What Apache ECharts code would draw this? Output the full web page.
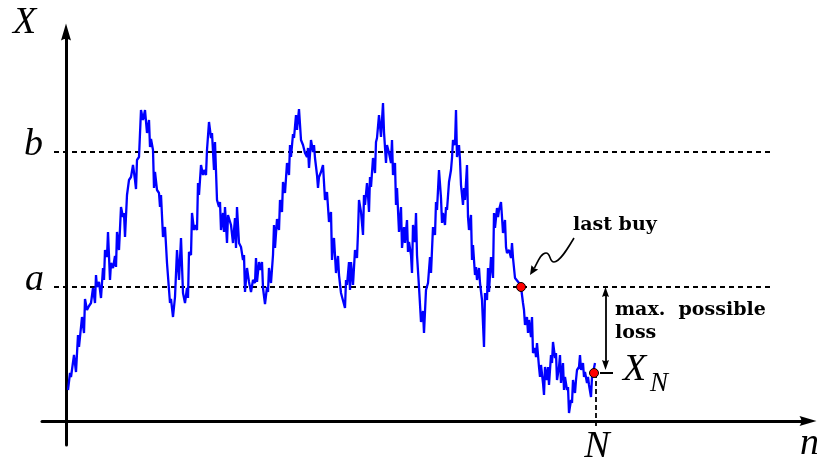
<!DOCTYPE html>
<html><head><meta charset="utf-8">
<script src="https://cdn.jsdelivr.net/npm/echarts@6/dist/echarts.min.js"></script>
<style>html,body{margin:0;padding:0;background:#fff}#c{width:817px;height:463px}</style>
</head><body><div id="c"></div>
<script>
// random walk X_n: [n, X]
const walk = [[2,31],[4,48],[5,44],[8,66],[10,49],[12,86],[13,74],[16,104],[18,88],[19,122],[21,111],[23,115],[25,118],[27,133],[29,118],[30,146],[31,134],[33,139],[35,123],[37,153],[38,141],[39,171],[41,164],[42,189],[44,141],[45,158],[47,153],[49,165],[50,154],[51,189],[53,171],[55,214],[57,204],[58,208],[59,184],[61,226],[63,241],[65,244],[67,256],[69,241],[70,232],[71,261],[73,264],[75,311],[77,301],[79,311],[81,288],[83,301],[84,274],[85,282],[87,271],[88,233],[89,249],[90,250],[91,231],[93,228],[94,214],[95,226],[97,184],[99,194],[101,158],[103,159],[104,118],[105,122],[107,104],[109,124],[111,171],[113,141],[115,183],[117,128],[119,118],[121,133],[122,123],[123,169],[125,166],[126,208],[128,191],[129,196],[131,191],[132,238],[133,226],[135,256],[137,246],[138,251],[140,246],[141,271],[143,299],[145,283],[146,288],[148,251],[149,279],[151,221],[153,214],[154,219],[155,191],[157,208],[158,189],[159,214],[161,178],[162,206],[163,208],[165,196],[166,194],[167,178],[169,203],[170,173],[171,214],[173,178],[175,174],[177,161],[178,166],[179,129],[181,153],[183,139],[185,129],[187,141],[189,138],[190,163],[191,139],[193,159],[194,151],[196,159],[197,133],[199,117],[201,134],[202,129],[203,153],[205,138],[207,166],[208,196],[209,173],[211,202],[213,191],[214,221],[216,209],[217,239],[219,228],[221,258],[223,246],[224,276],[225,264],[227,287],[228,283],[230,306],[231,291],[233,312],[235,281],[237,276],[239,268],[241,264],[242,273],[243,253],[245,281],[247,269],[248,276],[249,263],[251,246],[252,233],[253,244],[255,249],[257,256],[259,221],[261,229],[263,199],[265,209],[266,161],[267,176],[268,183],[270,148],[272,165],[273,146],[275,128],[277,129],[279,113],[280,141],[281,136],[283,159],[284,131],[285,159],[287,136],[289,171],[291,163],[292,189],[293,221],[295,209],[297,186],[298,226],[299,216],[301,238],[302,226],[303,209],[304,244],[305,234],[307,263],[309,248],[310,279],[311,283],[313,306],[315,284],[317,318],[318,289],[320,258],[321,276],[323,268],[325,258],[326,281],[327,246],[329,258],[330,216],[331,233],[333,189],[335,214],[336,173],[338,194],[339,178],[341,201],[342,169],[343,179],[345,166],[346,148],[347,196],[349,179],[350,208],[351,166],[353,134],[355,99],[357,110],[358,88],[360,131],[362,138],[364,164],[365,148],[367,194],[369,186],[370,219],[371,211],[373,251],[375,223],[376,198],[377,208],[379,196],[380,214],[381,211],[383,239],[385,251],[386,263],[387,281],[389,276],[390,311],[391,264],[393,276],[394,261],[395,236],[397,216],[398,233],[399,221],[401,256],[402,204],[403,191],[405,206],[406,161],[407,176],[409,146],[410,154],[411,141],[413,153],[414,138],[416,121],[418,74],[419,128],[421,121],[422,153],[423,129],[425,164],[427,143],[428,208],[429,193],[431,213],[432,204],[433,211],[435,219],[436,204],[437,188],[439,201],[440,174],[441,168],[443,171],[445,163],[446,178],[447,163],[449,143],[451,144],[453,138],[455,134],[457,118],[458,111],[459,96],[461,104],[462,88],[463,101],[465,84],[466,104],[467,68],[469,73],[470,64],[471,78],[473,54],[474,44],[475,56],[477,38],[478,26],[479,54],[481,41],[482,54],[483,36],[485,66],[486,58],[487,79],[489,63],[490,68],[491,41],[493,54],[494,66],[495,38],[497,58],[498,31],[499,44],[501,31],[502,34],[503,8],[505,21],[506,18],[507,41],[509,28],[510,41],[511,51],[513,54],[514,66],[515,51],[517,58],[518,44],[519,49],[521,38],[522,44],[523,36],[525,24],[526,44],[527,48],[528,48],[529,58]];

// threshold levels a and b
const levelNames = ['a', 'b'];
const levelValues = [134, 269];
const levelSpan = [-12, 704];

// marked points: last buy (at level a) and final value X_N
const markedPoints = [[455, 134], [528, 48]];
const finalN = 530;
const finalX = 48;

const arrowUp = 'path://M5,0 L10,17 Q5,13.5 0,17 Z';
const smallArrow = 'path://M3.5,0 L7,10 Q3.5,8 0,10 Z';

const chart = echarts.init(document.getElementById('c'), null, {renderer: 'canvas'});

function dashed(data, dash, w) {
  return {type: 'line', data: data, symbol: 'none', silent: true, z: 1,
    lineStyle: {color: '#000', width: w, type: dash}};
}

const mathFont = 'italic 38px "Liberation Serif"';
const boldFont = 'bold 19px "DejaVu Serif"';
function txt(s, x, y, font, align) {
  return {type: 'text', x: x, y: y, silent: true,
    style: {text: s, font: font, fill: '#000', textAlign: align || 'left', align: align || 'left',
      textVerticalAlign: 'middle', verticalAlign: 'middle'}};
}
function curve(p) {
  return {type: 'bezierCurve', silent: true,
    shape: {x1: p[0], y1: p[1], cpx1: p[2], cpy1: p[3], cpx2: p[4], cpy2: p[5], x2: p[6], y2: p[7]},
    style: {stroke: '#000', lineWidth: 1.6, fill: null}};
}

chart.setOption({
  animation: false,
  backgroundColor: '#fff',
  grid: {left: 42, right: 9, top: 32, bottom: 18},
  xAxis: {type: 'value', min: -24, max: 742,
    axisLine: {show: true, onZero: true, symbol: ['none', arrowUp], symbolSize: [11, 17],
      lineStyle: {color: '#000', width: 3}},
    axisTick: {show: false}, axisLabel: {show: false}, splitLine: {show: false}},
  yAxis: {type: 'value', min: -24, max: 389,
    axisLine: {show: true, onZero: true, symbol: ['none', arrowUp], symbolSize: [11, 17],
      lineStyle: {color: '#000', width: 3}},
    axisTick: {show: false}, axisLabel: {show: false}, splitLine: {show: false}},
  series: [
    dashed([[levelSpan[0], levelValues[1]], [levelSpan[1], levelValues[1]]], [5, 4], 1.8),
    dashed([[levelSpan[0], levelValues[0]], [levelSpan[1], levelValues[0]]], [5, 4], 1.8),
    dashed([[finalN, finalX], [finalN, -7]], [5, 3], 1.8),
    {type: 'line', data: walk, symbol: 'none', showSymbol: false, silent: true, z: 3,
      lineStyle: {color: '#0000ff', width: 2.3}},
    {type: 'line', data: [[finalN + 4, finalX], [finalN + 17, finalX]], symbol: 'none', silent: true, z: 2,
      lineStyle: {color: '#000', width: 2},
      markLine: {silent: true, symbol: [smallArrow, smallArrow], symbolSize: [7, 10],
        label: {show: false},
        lineStyle: {color: '#000', width: 1.8, type: 'solid'},
        data: [[{coord: [finalN + 9.5, levelValues[0] - 5]}, {coord: [finalN + 9.5, finalX + 8]}]]}},
    {type: 'scatter', data: markedPoints, symbolSize: 9, silent: true, z: 5,
      itemStyle: {color: '#ff0000', borderColor: '#000', borderWidth: 1, opacity: 1}}
  ],
  graphic: [
    txt('X', 13, 23, mathFont),
    txt('b', 24, 145, mathFont),
    txt('a', 25, 280, mathFont),
    txt('N', 597, 447, mathFont, 'center'),
    txt('n', 800, 444, mathFont),
    txt('X', 623, 370, mathFont),
    txt('N', 650, 384, 'italic 27px "Liberation Serif"'),
    txt('last buy', 573, 225, boldFont),
    txt('max.  possible', 615, 310, boldFont),
    txt('loss', 615, 333, boldFont),
    curve([574, 238, 568, 248, 560, 262, 554, 262]),
    curve([554, 262, 549, 262, 551, 253, 546, 253]),
    curve([546, 253, 541, 253, 538, 261, 534.5, 268]),
    {type: 'polygon', silent: true,
      shape: {points: [[530, 275], [538.2, 269.5], [534.8, 268.5], [531.4, 265.3]]},
      style: {fill: '#000'}}
  ]
});
</script></body></html>
